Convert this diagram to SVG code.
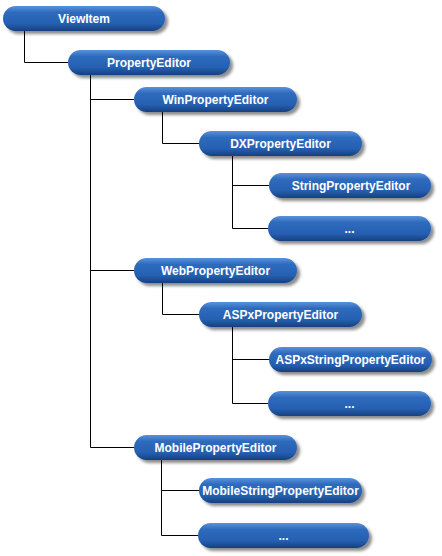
<svg xmlns="http://www.w3.org/2000/svg" width="442" height="556" viewBox="0 0 442 556">
<style>
.n rect{fill:url(#g);filter:url(#sh)}
.n text{fill:#fff;font-family:"Liberation Sans",Arial,sans-serif;font-weight:bold;font-size:12px;text-anchor:middle}
#conn path{stroke:#000;stroke-width:1;fill:none}
</style>
<defs>
<linearGradient id="g" x1="0" y1="0" x2="0" y2="1">
<stop offset="0" stop-color="#5a92da"/>
<stop offset="0.25" stop-color="#2f6bbd"/>
<stop offset="0.7" stop-color="#2660b2"/>
<stop offset="1" stop-color="#16407f"/>
</linearGradient>
<filter id="sh" x="-10%" y="-30%" width="125%" height="180%">
<feGaussianBlur in="SourceAlpha" stdDeviation="1.8"/>
<feOffset dx="3" dy="3" result="b"/>
<feFlood flood-color="#000" flood-opacity="0.45"/>
<feComposite in2="b" operator="in"/>
<feMerge><feMergeNode/><feMergeNode in="SourceGraphic"/></feMerge>
</filter>
</defs>
<rect width="442" height="556" fill="#fff"/>
<g id="conn">
<path d="M24.5 31V62.5H68"/>
<path d="M90.5 75V447.5M90.5 99.5H134M90.5 270.5H134M90.5 447.5H134"/>
<path d="M162.5 112V143.5H199"/>
<path d="M232.5 156V228.5M232.5 185.5H269M232.5 228.5H268"/>
<path d="M162.5 283V314.5H199"/>
<path d="M232.5 327V403.5M232.5 359.5H269M232.5 403.5H268"/>
<path d="M161.5 460V535.5M161.5 490.5H199M161.5 535.5H198"/>
</g>
<g id="n1" class="n"><rect x="3" y="6" width="162" height="25" rx="12.5"/><text x="84" y="22.5">ViewItem</text></g>
<g id="n2" class="n"><rect x="68" y="50" width="162" height="25" rx="12.5"/><text x="149" y="66.5">PropertyEditor</text></g>
<g id="n3" class="n"><rect x="134" y="87" width="163" height="25" rx="12.5"/><text x="215.5" y="103.5">WinPropertyEditor</text></g>
<g id="n4" class="n"><rect x="199" y="131" width="163" height="25" rx="12.5"/><text x="280.5" y="147.5">DXPropertyEditor</text></g>
<g id="n5" class="n"><rect x="269" y="173" width="162" height="25" rx="12.5"/><text x="351" y="189.5">StringPropertyEditor</text></g>
<g id="n6" class="n"><rect x="268" y="216" width="163" height="25" rx="12.5"/><text x="349.5" y="232.5">...</text></g>
<g id="n7" class="n"><rect x="134" y="258" width="163" height="25" rx="12.5"/><text x="215.5" y="274.5">WebPropertyEditor</text></g>
<g id="n8" class="n"><rect x="199" y="302" width="163" height="25" rx="12.5"/><text x="280.5" y="318.5">ASPxPropertyEditor</text></g>
<g id="n9" class="n"><rect x="269" y="347" width="163" height="25" rx="12.5"/><text x="350.5" y="363.5">ASPxStringPropertyEditor</text></g>
<g id="n10" class="n"><rect x="268" y="391" width="163" height="25" rx="12.5"/><text x="349.5" y="407.5">...</text></g>
<g id="n11" class="n"><rect x="134" y="435" width="163" height="25" rx="12.5"/><text x="215.5" y="451.5">MobilePropertyEditor</text></g>
<g id="n12" class="n"><rect x="199" y="478" width="163" height="25" rx="12.5"/><text x="280.5" y="494.5">MobileStringPropertyEditor</text></g>
<g id="n13" class="n"><rect x="198" y="523" width="171" height="25" rx="12.5"/><text x="283.5" y="539.5">...</text></g>
</svg>
